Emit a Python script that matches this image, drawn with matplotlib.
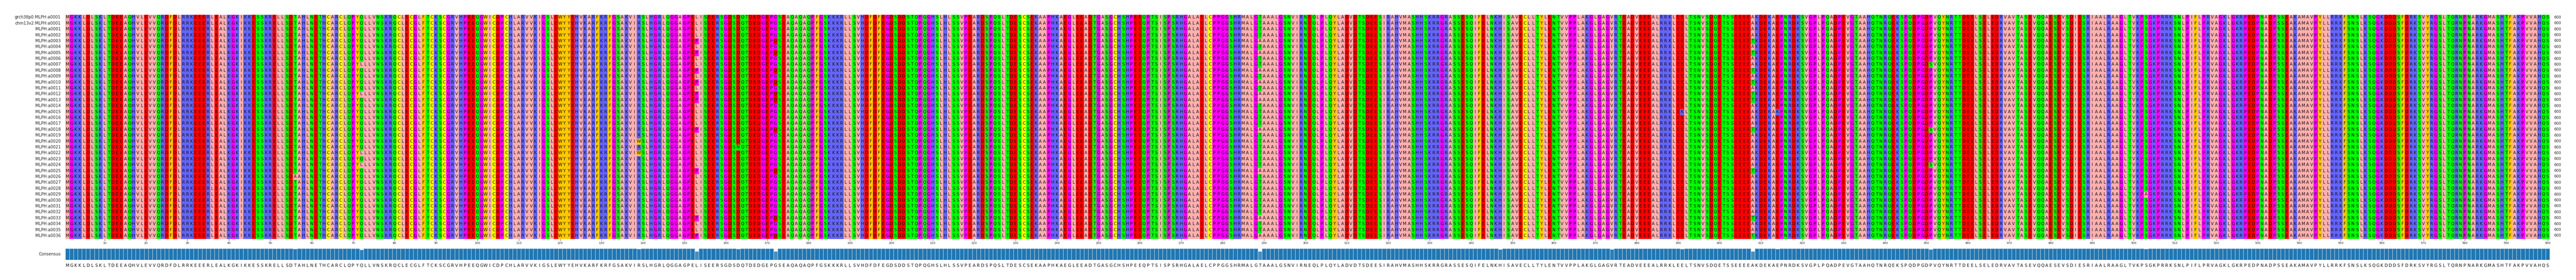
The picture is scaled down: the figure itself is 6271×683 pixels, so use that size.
import matplotlib
matplotlib.use("Agg")
import matplotlib.pyplot as plt
from matplotlib.colors import ListedColormap, to_rgba
import numpy as np

# aligned reference sequence, 10 residues per group
ref_seq = (
    "MGKKLDLSKL TDEEAQHVLE VVQRDFDLRR KEEERLEALK GKIKKESSKR "
    "ELLSDTAHLN ETHCARCLQP YQLLVNSKRQ CLECGLFTCK SCGRVHPEEQ "
    "GWICDPCHLA RVVKIGSLEW YYEHVKARFK RFGSAKVIRS LHGRLQGGAG "
    "PELISEERSG DSDQTDEDGE PGSEAQAQAQ PFGSKKKRLL SVHDFDFEGD "
    "SDDSTQPQGH SLHLSSVPEA RDSPQSLTDE SCSEKAAPHK AEGLEEADTG "
    "ASGCHSHPEE QPTSISPSRH GALAELCPPG GSHRMALGTA AALGSNVIRN "
    "EQLPLQYLAD VDTSDEESIR AHVMASHHSK RRGRASSESQ IFELNKHISA "
    "VECLLTYLEN TVVPPLAKGL GAGVRTEADV EEEALRRKLE ELTSNVSDQE "
    "TSSEEEEAKD EKAEPNRDKS VGPLPQADPE VGTAAHQTNR QEKSPQDPGD "
    "PVQYNRTTDE ELSELEDRVA VTASEVQQAE SEVSDIESRI AALRAAGLTV "
    "KPSGKPRRKS NLPIFLPRVA GKLGKRPEDP NADPSSEAKA MAVPYLLRRK "
    "FSNSLKSQGK DDDSFDRKSV YRGSLTQRNP NARKGMASHT FAKPVVAHQS"
).replace(" ", "")

row_names = ["grch38p0:MLPH:a0001", "chm13v2:MLPH:a0001"] + [f"MLPH:a{i:04d}" for i in range(1, 37)]

# the rows that carry the common haplotype
hap_rows = [4, 6, 9, 11, 13, 14, 19, 26, 34, 37]

# substitutions: residue position (1 based), new residue, rows
var_pos = [153, 172, 289, 408, 139, 163, 72, 56, 391, 414, 451, 503, 347, 374]
var_aa = ["P", "D", "A", "T", "W", "N", "L", "A", "K", "K", "S", "A", "R", "I"]
var_rows = [hap_rows, hap_rows, hap_rows, hap_rows, [21, 23], [22], [8, 13, 23, 25], [27], [16], [16],
            [8, 19, 25], [30], [10, 17, 29], [5, 18, 29]]

# Zappo colours
groups = {"AILMV": "#ffafaf", "GP": "#ff00ff", "KRH": "#6464ff", "DE": "#ff0000",
          "STNQ": "#00ff00", "C": "#ffff00", "FWY": "#ffc800"}
aa_order = "".join(groups)
aa_colors = [c for k, c in groups.items() for _ in k]

msa = np.array([list(ref_seq)] * len(row_names))
for pos, aa, rows in zip(var_pos, var_aa, var_rows):
    for r in rows:
        msa[r, pos - 1] = aa

n_rows, n_cols = msa.shape
W, H = 6271, 683
x0, x1 = 159, 6207


def make_ax(top, bottom):
    return fig.add_axes([x0 / W, 1 - bottom / H, (x1 - x0) / W, (bottom - top) / H])


fig = plt.figure(figsize=(W / 100, H / 100), dpi=100)

# alignment
ax = make_ax(36, 583)
idx = np.vectorize(aa_order.index)(msa)
ax.pcolormesh(np.arange(n_cols + 1), np.arange(n_rows + 1), idx, cmap=ListedColormap(aa_colors),
              vmin=-0.5, vmax=len(aa_order) - 0.5, antialiased=False, linewidth=0)
ax.set_xlim(0, n_cols)
ax.set_ylim(n_rows, 0)
for r in range(n_rows):
    for c in range(n_cols):
        ax.text(c + 0.5, r + 0.44, msa[r, c], ha="center", va="center", fontsize=7.4, color="#111111")
    ax.text(-1.1, r + 0.44, row_names[r], ha="right", va="center", fontsize=7.1, color="#222222")
    ax.text(n_cols + 1, r + 0.44, str(n_cols), ha="left", va="center", fontsize=6.7, color="#222222")
for s in ax.spines.values():
    s.set_visible(False)
ax.set_yticks([])
ticks = np.arange(10, n_cols + 1, 10)
ax.set_xticks(ticks - 0.5)
ax.set_xticklabels(ticks, fontsize=5.2, color="#222222")
ax.tick_params(axis="x", length=3, width=0.6, pad=2, color="#222222")

# consensus identity
consensus = [max(set(msa[:, c]), key=list(msa[:, c]).count) for c in range(n_cols)]
identity = np.array([np.mean(msa[:, c] == consensus[c]) for c in range(n_cols)])

ax2 = make_ax(606, 634)
bar_colors = [to_rgba("#1f77b4", 0.35 + 0.65 * v) for v in identity]
ax2.bar(np.arange(n_cols) + 0.5, identity, width=1, color=bar_colors, edgecolor="#b4d3e8", linewidth=0.8)
ax2.set_xlim(0, n_cols)
ax2.set_ylim(0, 1)
ax2.axis("off")
for c in range(n_cols):
    ax2.text(c + 0.5, -0.5, consensus[c], ha="center", va="center", fontsize=7.4, color="#111111")
ax2.text(-1.1, 0.5, "Consensus", ha="right", va="center", fontsize=7.1, color="#222222")

fig.savefig("out.png", dpi=100)
